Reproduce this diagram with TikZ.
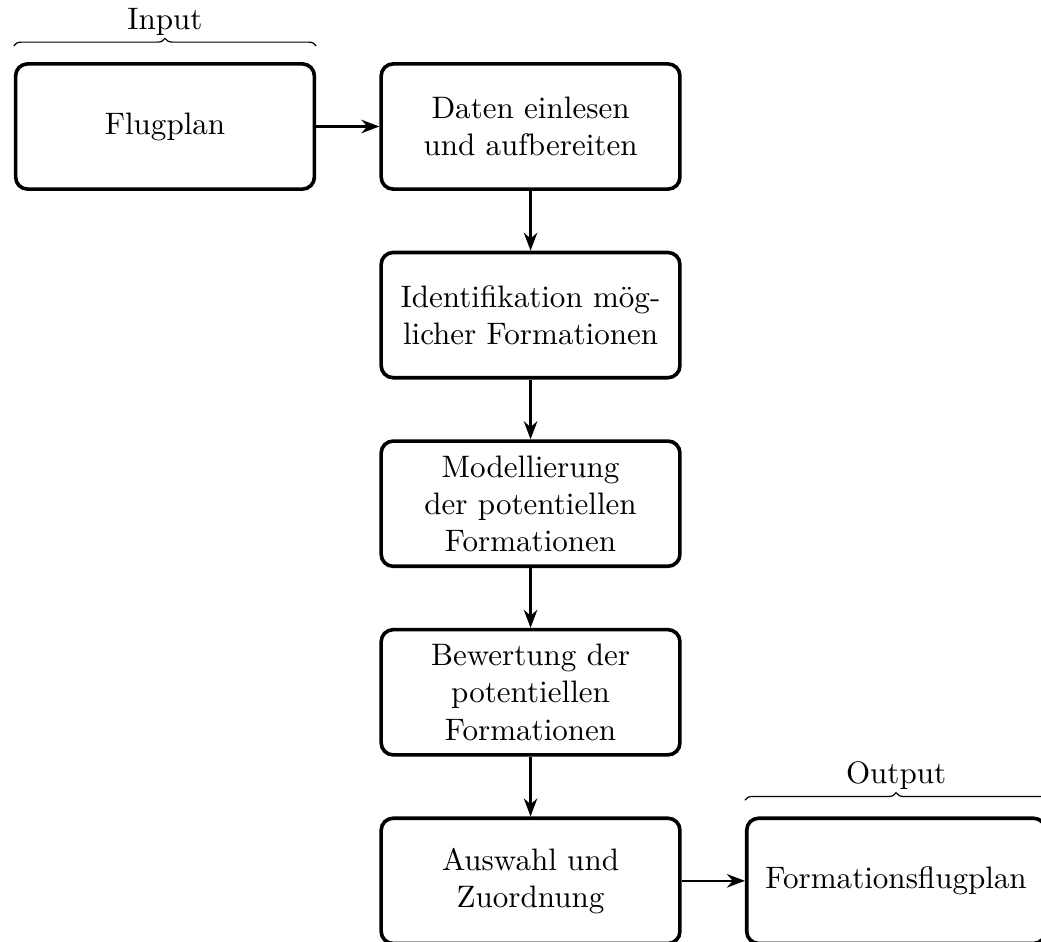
\documentclass[tikz,border=0pt]{standalone}
\usepackage{tikz}
\usetikzlibrary{arrows.meta, positioning, decorations.pathreplacing}

\begin{document}
\begin{tikzpicture}[
    node distance=0.70cm,
    font=\fontsize{10.35}{12.4}\selectfont,
    block/.style={draw, very thick, rounded corners, minimum width=3.5cm, minimum height=1.467cm, align=center},
    arr/.style={-{Stealth[length=6pt]}, thick},
    brc/.style={decorate, decoration={brace}}
]
    \useasboundingbox (-1.933,-9.542) rectangle (10.262,1.482);

    \node[block] (flug) at (0,0) {Flugplan};
    \node[block, right=0.74cm of flug] (daten) {Daten einlesen\\und aufbereiten};
    \node[block, below=of daten] (ident) {Identifikation m\"og-\\licher Formationen};
    \node[block, below=of ident] (model) {Modellierung\\der potentiellen\\Formationen};
    \node[block, below=of model] (bewert) {Bewertung der\\potentiellen\\Formationen};
    \node[block, below=of bewert] (auswahl) {Auswahl und\\Zuordnung};
    \node[block, right=0.74cm of auswahl] (form) {Formationsflugplan};

    \draw[arr] (flug) -- (daten);
    \draw[arr] (daten) -- (ident);
    \draw[arr] (ident) -- (model);
    \draw[arr] (model) -- (bewert);
    \draw[arr] (bewert) -- (auswahl);
    \draw[arr] (auswahl) -- (form);

    % Input / Output braces
    \draw[brc] ([yshift=0.19cm]flug.north west) -- ([yshift=0.19cm]flug.north east) node[midway, above] {Input};
    \draw[brc] ([yshift=0.19cm]form.north west) -- ([yshift=0.19cm]form.north east) node[midway, above] {Output};
\end{tikzpicture}
\end{document}
